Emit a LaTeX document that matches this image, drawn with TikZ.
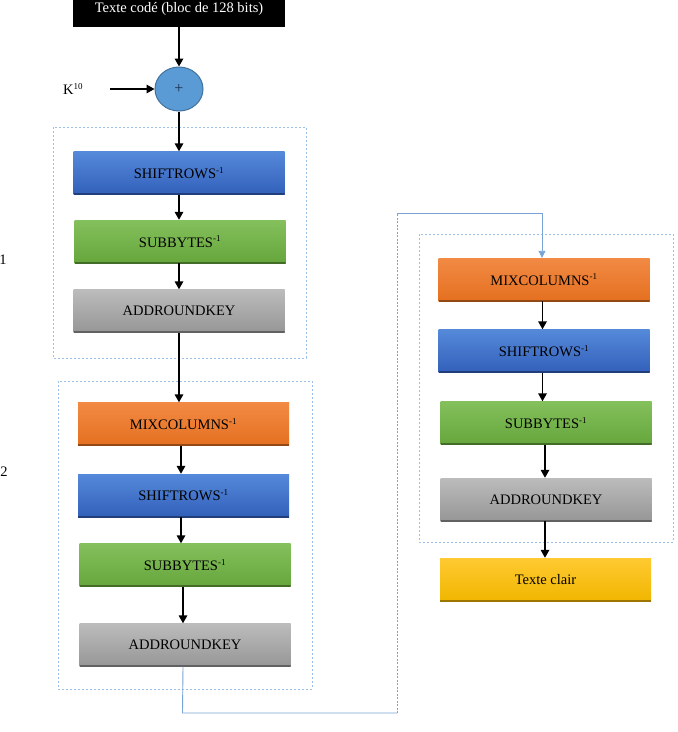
\documentclass[tikz,border=0pt]{standalone}
\usepackage{fontspec}
\setmainfont{Liberation Serif}
\usetikzlibrary{arrows.meta,shapes.geometric}
\definecolor{dashblue}{RGB}{155,194,230}
\definecolor{linkblue}{RGB}{120,165,215}
\definecolor{circfill}{RGB}{91,155,213}
\definecolor{circdraw}{RGB}{65,113,156}
\definecolor{plusc}{RGB}{30,50,80}
\definecolor{blueT}{RGB}{85,137,218}
\definecolor{blueB}{RGB}{50,96,186}
\definecolor{greenT}{RGB}{132,192,92}
\definecolor{greenB}{RGB}{102,166,60}
\definecolor{grayT}{RGB}{188,188,188}
\definecolor{grayB}{RGB}{150,150,150}
\definecolor{orangeT}{RGB}{242,138,68}
\definecolor{orangeB}{RGB}{228,112,32}
\definecolor{yellowT}{RGB}{255,202,50}
\definecolor{yellowB}{RGB}{240,182,0}
\tikzset{
  opbox/.style 2 args={rectangle, minimum width=211pt, minimum height=43pt, inner sep=0pt,
    top color=#1, bottom color=#2, draw=none,
    font=\fontsize{14.5}{16}\selectfont,
    path picture={\draw[line width=2.2pt, #2!65!black] (path picture bounding box.south west) -- (path picture bounding box.south east);}},
  bluebox/.style={opbox={blueT}{blueB}},
  greenbox/.style={opbox={greenT}{greenB}},
  graybox/.style={opbox={grayT}{grayB}},
  orangebox/.style={opbox={orangeT}{orangeB}},
  yellowbox/.style={opbox={yellowT}{yellowB}},
  arr/.style={line width=1.7pt, -{Triangle[length=8pt,width=8.5pt]}},
  roundbox/.style={draw=dashblue, line width=0.8pt, dash pattern=on 2pt off 2pt},
  link/.style={draw=linkblue, line width=0.9pt},
}
\newcommand{\invsup}{\textsuperscript{\fontsize{9}{9}\selectfont -1}}
\begin{document}
\begin{tikzpicture}[x=1pt,y=-1pt]
\clip (0,0) rectangle (678,732);
\fill[white] (0,0) rectangle (678,732);
% dashed round frames
\draw[roundbox] (53,127) rectangle (306,358);
\draw[roundbox] (58,381) rectangle (312,689);
\draw[roundbox] (419,234) rectangle (673,542);
% top box
\node[rectangle, fill=black, minimum width=212pt, minimum height=43pt, inner sep=0pt] (top) at (179,5.5) {};
\node[text=white, font=\fontsize{14.5}{16}\selectfont, inner sep=0pt] (toptext) at (179,8.5) {Texte codé (bloc de 128 bits)};
% xor
\node[ellipse, fill=circfill, draw=circdraw, line width=1pt, minimum width=48pt, minimum height=44pt, inner sep=0pt, text=plusc, font=\fontsize{16}{16}\selectfont] (xor) at (179,89) {+};
\node[font=\fontsize{14.5}{16}\selectfont, anchor=west, inner sep=0pt] (k) at (63,89) {K\textsuperscript{\fontsize{9}{9}\selectfont 10}};
\coordinate (kend) at (110,89);
% left column
\node[bluebox] (s1) at (179,173) {SHIFTROWS\invsup};
\node[greenbox] (b1) at (180,241.5) {SUBBYTES\invsup};
\node[graybox] (a1) at (179,311) {ADDROUNDKEY};
\node[orangebox] (m2) at (183.5,424) {MIXCOLUMNS\invsup};
\node[bluebox] (s2) at (183.5,495.5) {SHIFTROWS\invsup};
\node[greenbox] (b2) at (185,565) {SUBBYTES\invsup};
\node[graybox] (a2) at (185,645) {ADDROUNDKEY};
% right column
\node[orangebox] (m3) at (544,279.5) {MIXCOLUMNS\invsup};
\node[bluebox] (s3) at (544,351) {SHIFTROWS\invsup};
\node[greenbox] (b3) at (546,423) {SUBBYTES\invsup};
\node[graybox] (a3) at (546,499.5) {ADDROUNDKEY};
\node[yellowbox] (tc) at (545.5,579.5) {Texte clair};
% round labels
\node[font=\fontsize{14.5}{16}\selectfont, inner sep=0pt] (r1) at (3,260) {1};
\node[font=\fontsize{14.5}{16}\selectfont, inner sep=0pt] (r2) at (4,472) {2};
% arrows
\draw[arr] (top.south) -- (xor.north);
\draw[arr] (kend) -- (xor.west);
\draw[arr] (xor.south) -- (xor.south |- s1.north);
\draw[arr] (s1.south) -- (s1.south |- b1.north);
\draw[arr] (s1.south |- b1.south) -- (s1.south |- a1.north);
\draw[arr] (a1.south) -- (a1.south |- m2.north);
\coordinate (c2) at (181,0);
\draw[arr] (c2 |- m2.south) -- (c2 |- s2.north);
\draw[arr] (c2 |- s2.south) -- (c2 |- b2.north);
\coordinate (c3) at (183,0);
\draw[arr] (c3 |- b2.south) -- (c3 |- a2.north);
\coordinate (c4) at (542.5,0);
\draw[arr] (c4 |- m3.south) -- (c4 |- s3.north);
\draw[arr] (c4 |- s3.south) -- (c4 |- b3.north);
\coordinate (c5) at (545,0);
\draw[arr] (c5 |- b3.south) -- (c5 |- a3.north);
\draw[arr] (c5 |- a3.south) -- (c5 |- tc.north);
% blue link
\coordinate (l1) at (182.5,713);
\coordinate (l2) at (397,713);
\coordinate (l3) at (397,213);
\coordinate (l4) at (542,213);
\draw[link] (c3 |- a2.south) -- (l1) -- (l2);
\draw[link, dash pattern=on 2pt off 1.5pt] (l2) -- (l3);
\draw[link, -{Triangle[length=7pt,width=7pt]}] (l3) -- (l4) -- (l4 |- m3.north);
\end{tikzpicture}
\end{document}
